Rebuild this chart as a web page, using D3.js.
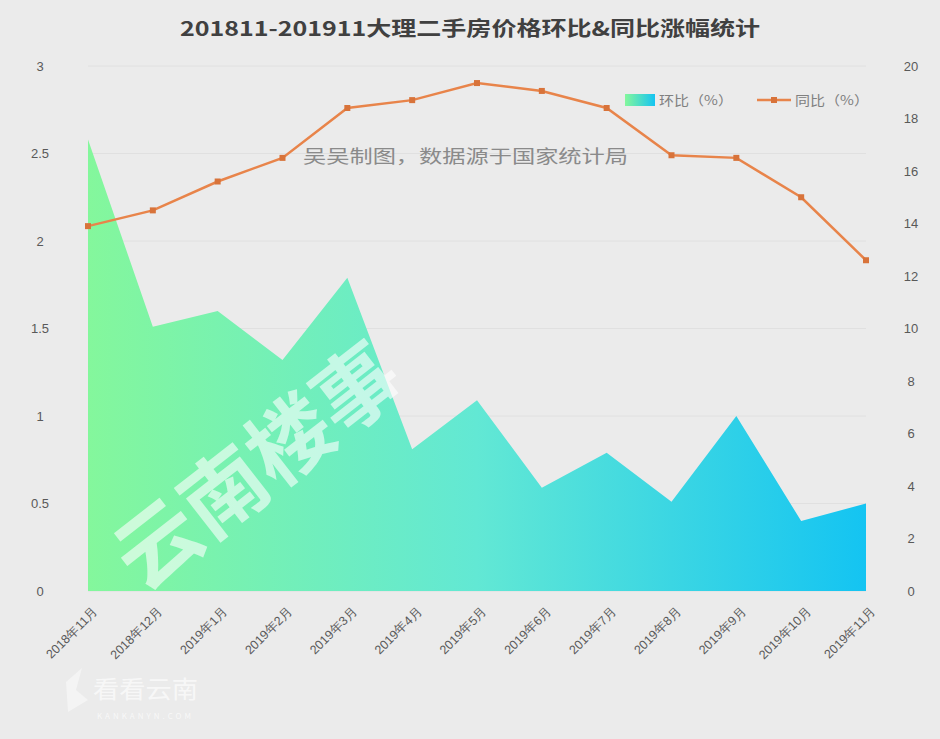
<!DOCTYPE html>
<html><head><meta charset="utf-8">
<script src="https://cdn.jsdelivr.net/npm/d3@7/dist/d3.min.js"></script>
<style>
html,body{margin:0;padding:0;background:#ebebeb;}
svg{display:block;font-family:"Noto Sans CJK SC","Noto Sans",sans-serif;}
</style></head>
<body>
<svg id="chart" width="940" height="739"></svg>
<script>
const categories = ["2018年11月","2018年12月","2019年1月","2019年2月","2019年3月","2019年4月","2019年5月","2019年6月","2019年7月","2019年8月","2019年9月","2019年10月","2019年11月"];
const huanbi = [2.58,1.51,1.6,1.32,1.79,0.81,1.09,0.59,0.79,0.51,1.0,0.4,0.5];
const tongbi = [13.9,14.5,15.6,16.5,18.4,18.7,19.35,19.05,18.4,16.6,16.5,15.0,12.6];
const leftTicks = [0,0.5,1,1.5,2,2.5,3];
const rightTicks = [0,2,4,6,8,10,12,14,16,18,20];
const title = "201811-201911大理二手房价格环比&同比涨幅统计";
const seriesNames = ["环比（%）","同比（%）"];
const note = "吴吴制图，数据源于国家统计局";

const svg = d3.select("#chart");
const W = 940, H = 739;
svg.append("rect").attr("width",W).attr("height",H).attr("fill","#ebebeb");

const x = d3.scalePoint().domain(categories).range([88,866]);
const yL = d3.scaleLinear().domain([0,3]).range([591,66]);
const yR = d3.scaleLinear().domain([0,20]).range([591,66]);

// gridlines
svg.append("g").selectAll("line").data(leftTicks).join("line")
  .attr("x1",88).attr("x2",866).attr("y1",d=>yL(d)).attr("y2",d=>yL(d))
  .attr("stroke","#e0e0e0").attr("stroke-width",1);

// gradient
const defs = svg.append("defs");
const grad = defs.append("linearGradient").attr("id","ag")
  .attr("gradientUnits","userSpaceOnUse").attr("x1",88).attr("x2",866).attr("y1",0).attr("y2",0);
grad.append("stop").attr("offset","0%").attr("stop-color","#84f79c");
grad.append("stop").attr("offset","50%").attr("stop-color","#62e8d4");
grad.append("stop").attr("offset","100%").attr("stop-color","#14c4f2");

const area = d3.area().x((d,i)=>x(categories[i])).y0(yL(0)).y1(d=>yL(d));
svg.append("path").datum(huanbi).attr("d",area).attr("fill","url(#ag)");

// axes labels
const gl = svg.append("g").attr("transform","translate(52,0)")
  .call(d3.axisLeft(yL).tickValues(leftTicks).tickSize(0).tickPadding(0).tickFormat(d3.format("")));
gl.select(".domain").remove();
gl.selectAll("text").attr("fill","#595959").attr("font-size",13).attr("text-anchor","middle").attr("x",-12);

const gr = svg.append("g").attr("transform","translate(911,0)")
  .call(d3.axisRight(yR).tickValues(rightTicks).tickSize(0).tickPadding(0));
gr.select(".domain").remove();
gr.selectAll("text").attr("fill","#595959").attr("font-size",13).attr("text-anchor","middle").attr("x",0);

const gx = svg.append("g").attr("transform","translate(0,597)")
  .call(d3.axisBottom(x).tickSize(0).tickPadding(0));
gx.select(".domain").remove();
gx.selectAll("text").attr("fill","#595959").attr("font-size",12.5)
  .attr("text-anchor","end").attr("dy","0.35em")
  .attr("transform","translate(7,12) rotate(-45)");

// line
const line = d3.line().x((d,i)=>x(categories[i])).y(d=>yR(d));
svg.append("path").datum(tongbi).attr("d",line).attr("fill","none")
  .attr("stroke","#e8844a").attr("stroke-width",2.5);
svg.append("g").selectAll("rect").data(tongbi).join("rect")
  .attr("x",(d,i)=>x(categories[i])-3).attr("y",d=>yR(d)-3)
  .attr("width",6).attr("height",6).attr("fill","#d8733a");

// watermark
svg.append("text").attr("transform","translate(262,472) rotate(-38)")
  .attr("text-anchor","middle").attr("dominant-baseline","middle")
  .attr("font-size",84).attr("font-weight","bold").attr("fill","#ffffff").attr("fill-opacity",0.6)
  .text("云南楼事");

// note
svg.append("text").attr("x",303).attr("y",163).attr("textLength",325).attr("lengthAdjust","spacingAndGlyphs")
  .attr("font-size",18).attr("fill","#8a8a8a").text(note);

// title
svg.append("text").attr("x",180).attr("y",36).attr("textLength",580).attr("lengthAdjust","spacingAndGlyphs")
  .attr("font-size",20).attr("font-weight","bold").attr("fill","#404040").text(title);

// legend
const lgrad = defs.append("linearGradient").attr("id","lg");
lgrad.append("stop").attr("offset","0%").attr("stop-color","#84f79c");
lgrad.append("stop").attr("offset","100%").attr("stop-color","#14c4f2");
const lg = svg.append("g");
lg.append("rect").attr("x",625).attr("y",94).attr("width",30).attr("height",12).attr("fill","url(#lg)");
lg.append("text").attr("x",659).attr("y",105).attr("font-size",13).attr("textLength",74).attr("lengthAdjust","spacingAndGlyphs")
  .attr("fill","#808080").text(seriesNames[0]);
lg.append("line").attr("x1",757).attr("x2",791).attr("y1",100).attr("y2",100).attr("stroke","#e8844a").attr("stroke-width",2.5);
lg.append("rect").attr("x",771).attr("y",97).attr("width",6).attr("height",6).attr("fill","#d8733a");
lg.append("text").attr("x",795).attr("y",105).attr("font-size",13).attr("textLength",74).attr("lengthAdjust","spacingAndGlyphs")
  .attr("fill","#808080").text(seriesNames[1]);

// bottom-left logo watermark
svg.append("text").attr("x",93).attr("y",698).attr("font-size",24).attr("textLength",105).attr("lengthAdjust","spacingAndGlyphs")
  .attr("fill","#ffffff").attr("fill-opacity",0.65).text("看看云南");
svg.append("text").attr("x",97).attr("y",719).attr("font-size",8).attr("letter-spacing",3).attr("fill","#ffffff").attr("fill-opacity",0.65).text("KANKANYN.COM");
svg.append("path").attr("d","M66,682 L82,668 L76,690 L88,700 L68,712 Z").attr("fill","#ffffff").attr("fill-opacity",0.45);
</script>
</body></html>
